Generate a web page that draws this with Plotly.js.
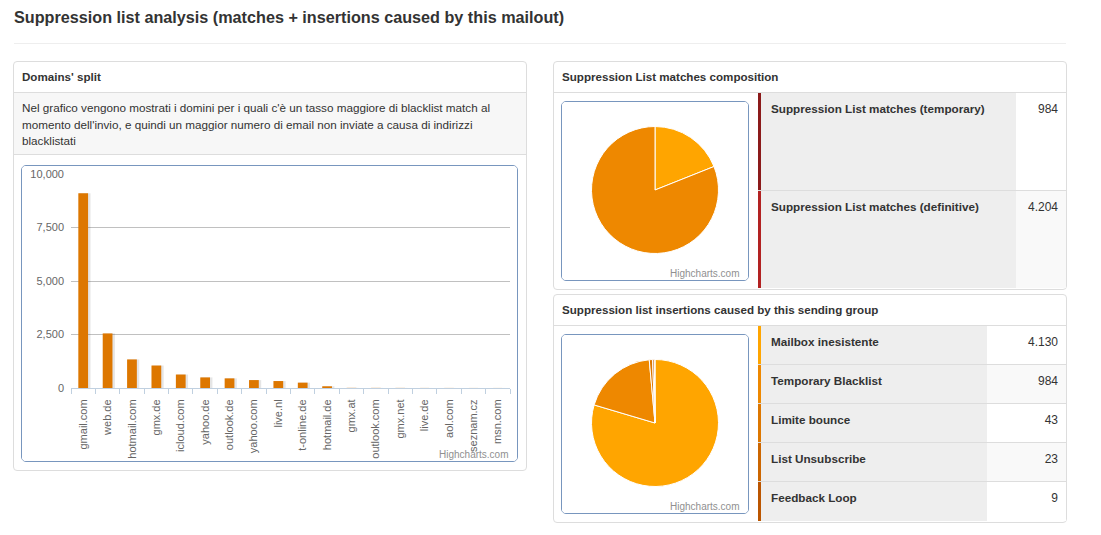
<!DOCTYPE html>
<html>
<head>
<meta charset="utf-8">
<script src="https://cdn.plot.ly/plotly-3.0.1.min.js"></script>
<style>
  body { margin:0; background:#fff; font-family:"Liberation Sans", Arial, sans-serif; color:#333; width:1101px; height:535px; position:relative; overflow:hidden; }
  .title { position:absolute; left:14px; top:7px; margin:0; font-size:16.2px; line-height:20px; font-weight:bold; white-space:nowrap; }
  .rule { position:absolute; left:14px; top:43px; width:1052px; height:1px; background:#eee; }
  .panel { position:absolute; border:1px solid #ddd; border-radius:4px; background:#fff; box-sizing:border-box; }
  .panel-head { position:absolute; left:0; top:0; right:0; height:30px; line-height:30px; padding-left:8px; font-size:11.6px; font-weight:bold; border-bottom:1px solid #ddd; white-space:nowrap; }
  .desc { position:absolute; left:0; right:0; top:31px; height:62px; background:#f7f7f7; border-bottom:1px solid #ddd; padding:7px 8px 0 8px; box-sizing:border-box; font-size:11.7px; line-height:16.5px; white-space:nowrap; }
  .chartbox { position:absolute; border:1px solid #7896be; border-radius:5px; overflow:hidden; background:#fff; }
  .tbl { position:absolute; left:204px; top:31px; width:308px; }
  .row { display:flex; border-bottom:1px solid #ddd; box-sizing:border-box; }
  .row:last-child { border-bottom:none; }
  .c1 { background:#eee; border-left:3px solid #999; padding:8px 10px 0 10px; font-size:11.7px; line-height:16px; font-weight:bold; box-sizing:border-box; white-space:nowrap; }
  .c2 { flex:1; text-align:right; padding:8px 8px 0 0; font-size:12px; line-height:16px; box-sizing:border-box; }
</style>
</head>
<body>
<div class="title">Suppression list analysis (matches + insertions caused by this mailout)</div>
<div class="rule"></div>

<div class="panel" style="left:13px; top:61px; width:514px; height:410px;">
  <div class="panel-head">Domains' split</div>
  <div class="desc">Nel grafico vengono mostrati i domini per i quali c'è un tasso maggiore di blacklist match al<br>momento dell'invio, e quindi un maggior numero di email non inviate a causa di indirizzi<br>blacklistati</div>
  <div class="chartbox" style="left:7px; top:103px; width:495px; height:295px;"><div id="bars"></div></div>
</div>

<div class="panel" style="left:553px; top:61px; width:514px; height:229px;">
  <div class="panel-head">Suppression List matches composition</div>
  <div class="chartbox" style="left:7px; top:39px; width:186px; height:178px;"><div id="pie1"></div></div>
  <div class="tbl" id="tbl1"></div>
</div>

<div class="panel" style="left:553px; top:294px; width:514px; height:229px;">
  <div class="panel-head">Suppression list insertions caused by this sending group</div>
  <div class="chartbox" style="left:7px; top:39px; width:186px; height:178px;"><div id="pie2"></div></div>
  <div class="tbl" id="tbl2"></div>
</div>

<script>
// domains split (blacklist matches per domain)
const domains = ['gmail.com', 'web.de', 'hotmail.com', 'gmx.de', 'icloud.com', 'yahoo.de', 'outlook.de', 'yahoo.com', 'live.nl',
  't-online.de', 'hotmail.de', 'gmx.at', 'outlook.com', 'gmx.net', 'live.de', 'aol.com', 'seznam.cz', 'msn.com']
const domainCounts = [9100, 2550, 1335, 1050, 630, 495, 450, 370, 325, 250, 80, 6, 5, 4, 3, 3, 2, 2]

// suppression list matches
const matchLabels = ['Suppression List matches (temporary)', 'Suppression List matches (definitive)']
const matchValues = [984, 4204]
const matchPieColors = ['#FFA500', '#EE8800']
const matchRowColors = ['#8B1A1A', '#B22222']

// insertions caused by this sending group
const insertLabels = ['Mailbox inesistente', 'Temporary Blacklist', 'Limite bounce', 'List Unsubscribe', 'Feedback Loop']
const insertValues = [4130, 984, 43, 23, 9]
const insertColors = ['#FFA500', '#EE8800', '#DD7700', '#CC6600', '#BB5500']

const font = 'Liberation Sans, Arial, sans-serif'
const config = {staticPlot: true, displayModeBar: false}

function fmt(n) {
  return String(n).replace(/\B(?=(\d{3})+(?!\d))/g, '.')
}

function credit(x, y) {
  return {text: 'Highcharts.com', xref: 'paper', yref: 'paper', x: x, y: y, xanchor: 'right', yanchor: 'middle',
    showarrow: false, font: {family: font, size: 10, color: '#909090'}}
}

// bar chart
const shadow = {
  type: 'bar', x: domains, y: domainCounts, width: 0.47, offset: -0.17,
  marker: {color: 'rgba(0,0,0,0.10)'}, hoverinfo: 'skip'
}
const bars = {
  type: 'bar', x: domains, y: domainCounts, width: 0.4, offset: -0.2,
  marker: {color: '#DD7700', line: {width: 0}}
}
Plotly.newPlot('bars', [shadow, bars], {
  width: 495, height: 295,
  margin: {l: 49, r: 7, t: 8, b: 73},
  barmode: 'overlay',
  showlegend: false,
  paper_bgcolor: '#fff', plot_bgcolor: '#fff',
  xaxis: {
    type: 'category', range: [-0.5, 17.5], tickangle: -90,
    ticks: 'outside', tickson: 'boundaries', ticklen: 5, tickcolor: '#C0D0E0',
    showline: true, linecolor: '#C0D0E0', showgrid: false, automargin: false,
    tickfont: {family: font, size: 11, color: '#666'}, ticklabelstandoff: 6
  },
  yaxis: {
    range: [0, 10000], tickvals: [0, 2500, 5000, 7500, 10000], tickformat: ',',
    gridcolor: '#C0C0C0', zeroline: false, showline: false, automargin: false,
    tickfont: {family: font, size: 11, color: '#666'}, ticklabelstandoff: 6
  },
  annotations: [credit(1, -0.312)]
}, config)

// pies
function pie(id, labels, values, colors) {
  Plotly.newPlot(id, [{
    type: 'pie', labels: labels, values: values, sort: false, direction: 'clockwise', rotation: 0,
    textinfo: 'none', marker: {colors: colors, line: {color: '#fff', width: 1}},
    domain: {x: [29.5 / 186, 156.5 / 186], y: [26.5 / 178, 153.5 / 178]}
  }], {
    width: 186, height: 178, margin: {l: 0, r: 0, t: 0, b: 0}, showlegend: false,
    paper_bgcolor: '#fff', annotations: [credit(0.961, 0.034)]
  }, config)
}
pie('pie1', matchLabels, matchValues, matchPieColors)
pie('pie2', insertLabels, insertValues, insertColors)

// side tables
function table(id, labels, values, colors, col1, rowH) {
  const el = document.getElementById(id)
  labels.forEach(function (lab, i) {
    const row = document.createElement('div')
    row.className = 'row'
    row.style.height = rowH + 'px'
    const a = document.createElement('div')
    a.className = 'c1'
    a.style.width = col1 + 'px'
    a.style.borderLeftColor = colors[i]
    a.textContent = lab
    const b = document.createElement('div')
    b.className = 'c2'
    b.style.background = i % 2 ? '#f9f9f9' : '#fff'
    b.textContent = fmt(values[i])
    row.appendChild(a)
    row.appendChild(b)
    el.appendChild(row)
  })
}
table('tbl1', matchLabels, matchValues, matchRowColors, 258, 97.5)
table('tbl2', insertLabels, insertValues, insertColors, 229, 39)
</script>
</body>
</html>
